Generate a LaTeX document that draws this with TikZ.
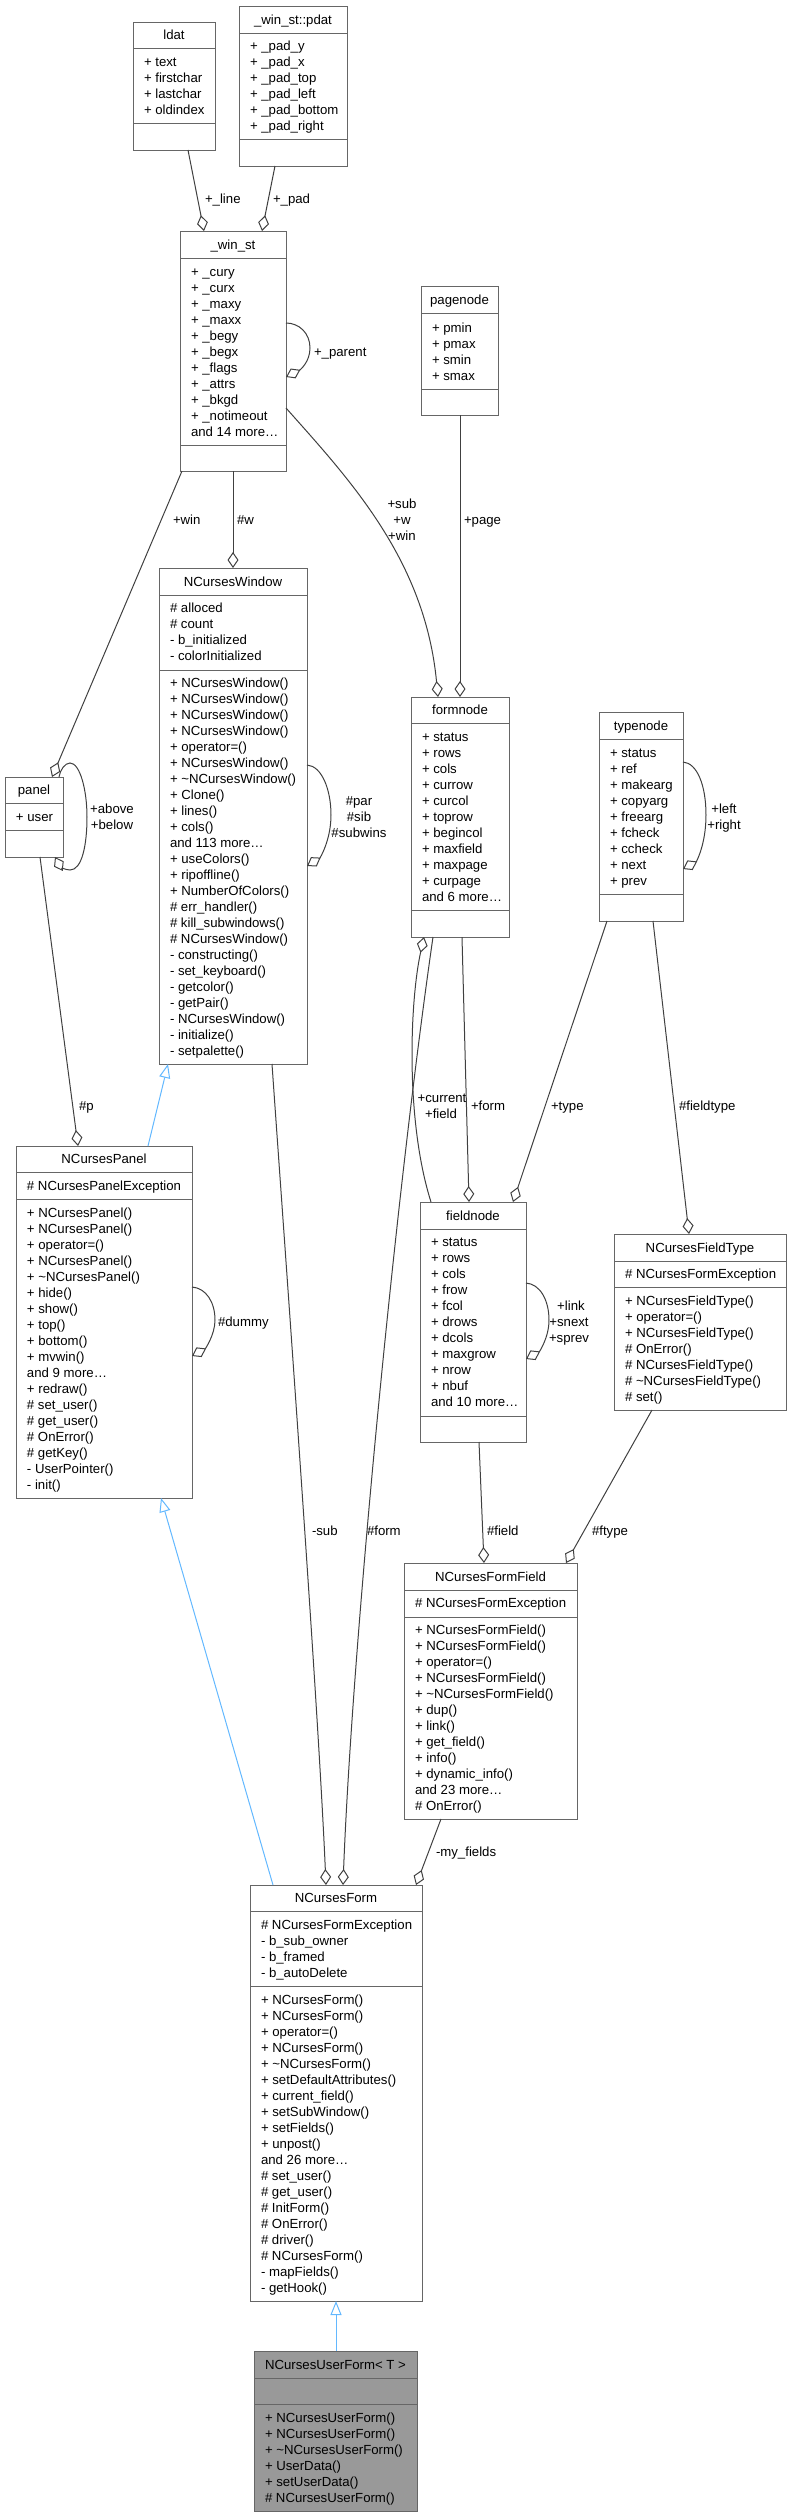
\documentclass[tikz,border=0pt]{standalone}
\usepackage{fontspec}
\setmainfont{Liberation Sans}
\usetikzlibrary{arrows.meta}
\definecolor{boxc}{HTML}{666666}
\definecolor{edgec}{HTML}{404040}
\definecolor{inhc}{HTML}{63B8FF}
\definecolor{focusc}{HTML}{999999}
% #1 name, #2 left, #3 top, #4 right, #5 bottom, #6 fill
\newcommand\umlbox[6]{\node[box, fill=#6, anchor=north west, minimum width={(#4-#2)*1pt}, minimum height={(#5-#3)*1pt}] (#1) at (#2,#3) {};}
% #1 box name, #2 y
\newcommand\usep[2]{\draw[sepl] (#1.west |- 0,#2) -- (#1.east |- 0,#2);}
% #1 box name, #2 y, #3 text
\newcommand\utitle[3]{\node[ttl] (#1-t) at (#1.north |- 0,#2) {#3};}
% #1 prefix, #2 x, #3 first y, #4 list
\newcommand\umem[4]{\foreach \mt [count=\mi] in {#4} {\node[mem] (#1\mi) at (#2,{#3+16*(\mi-1)}) {\mt};}}
\begin{document}
\begin{tikzpicture}[x=1pt,y=-1pt,
  every node/.style={font=\fontsize{13.2}{16}\selectfont, inner sep=0pt, outer sep=0pt},
  box/.style={draw=boxc, line width=1pt, rectangle},
  sepl/.style={draw=boxc, line width=1pt},
  ttl/.style={anchor=base, yshift=-4.5pt},
  mem/.style={anchor=base west, yshift=-4.5pt},
  lblw/.style={anchor=base west, yshift=-4.5pt},
  lblc/.style={anchor=base, yshift=-4.5pt},
  agg/.style={draw=edgec, line width=1pt, {Diamond[open,length=16pt,width=11pt]}-},
  inh/.style={draw=inhc, line width=1pt, {Triangle[open,length=14pt,width=11pt]}-}]
\useasboundingbox (0,0) rectangle (791,2517);

% ---------- boxes ----------
\umlbox{ldat}{133}{22}{215}{150}{white}
\usep{ldat}{48}\usep{ldat}{123}
\utitle{ldat}{35}{ldat}
\umem{ldat-a}{144}{62}{+ text, + firstchar, + lastchar, + oldindex}

\umlbox{pdat}{239}{6}{347}{166}{white}
\usep{pdat}{33}\usep{pdat}{139}
\utitle{pdat}{19.5}{\_win\_st::pdat}
\umem{pdat-a}{250}{46}{+ \_pad\_y, + \_pad\_x, + \_pad\_top, + \_pad\_left, + \_pad\_bottom, + \_pad\_right}

\umlbox{winst}{180}{231}{286}{471}{white}
\usep{winst}{258}\usep{winst}{445}
\utitle{winst}{245}{\_win\_st}
\umem{winst-a}{191}{272}{+ \_cury, + \_curx, + \_maxy, + \_maxx, + \_begy, + \_begx, + \_flags, + \_attrs, + \_bkgd, + \_notimeout, and 14 more…}

\umlbox{pagenode}{421}{286}{498}{415}{white}
\usep{pagenode}{313}\usep{pagenode}{389}
\utitle{pagenode}{299.5}{pagenode}
\umem{pagenode-a}{432}{328}{+ pmin, + pmax, + smin, + smax}

\umlbox{formnode}{411}{697}{509}{937}{white}
\usep{formnode}{723}\usep{formnode}{910}
\utitle{formnode}{710}{formnode}
\umem{formnode-a}{422}{737}{+ status, + rows, + cols, + currow, + curcol, + toprow, + begincol, + maxfield, + maxpage, + curpage, and 6 more…}

\umlbox{typenode}{599}{712}{683}{921}{white}
\usep{typenode}{739}\usep{typenode}{894}
\utitle{typenode}{725.5}{typenode}
\umem{typenode-a}{610}{753}{+ status, + ref, + makearg, + copyarg, + freearg, + fcheck, + ccheck, + next, + prev}

\umlbox{ncwin}{159}{568}{307}{1064}{white}
\usep{ncwin}{595}\usep{ncwin}{670}
\utitle{ncwin}{581.5}{NCursesWindow}
\umem{ncwin-a}{170}{608}{\# alloced, \# count, - b\_initialized, - colorInitialized}
\umem{ncwin-m}{170}{683}{+ NCursesWindow(), + NCursesWindow(), + NCursesWindow(), + NCursesWindow(), + operator=(), + NCursesWindow(), + \textasciitilde NCursesWindow(), + Clone(), + lines(), + cols(), and 113 more…, + useColors(), + ripoffline(), + NumberOfColors(), \# err\_handler(), \# kill\_subwindows(), \# NCursesWindow(), - constructing(), - set\_keyboard(), - getcolor(), - getPair(), - NCursesWindow(), - initialize(), - setpalette()}

\umlbox{panel}{5}{777}{63}{857}{white}
\usep{panel}{803}\usep{panel}{830}
\utitle{panel}{790}{panel}
\umem{panel-a}{16}{817}{+ user}

\umlbox{ncpanel}{16}{1146}{192}{1498}{white}
\usep{ncpanel}{1172}\usep{ncpanel}{1199}
\utitle{ncpanel}{1159}{NCursesPanel}
\umem{ncpanel-a}{27}{1186}{\# NCursesPanelException}
\umem{ncpanel-m}{27}{1213}{+ NCursesPanel(), + NCursesPanel(), + operator=(), + NCursesPanel(), + \textasciitilde NCursesPanel(), + hide(), + show(), + top(), + bottom(), + mvwin(), and 9 more…, + redraw(), \# set\_user(), \# get\_user(), \# OnError(), \# getKey(), - UserPointer(), - init()}

\umlbox{fieldnode}{420}{1202}{526}{1442}{white}
\usep{fieldnode}{1229}\usep{fieldnode}{1416}
\utitle{fieldnode}{1215.5}{fieldnode}
\umem{fieldnode-a}{431}{1242}{+ status, + rows, + cols, + frow, + fcol, + drows, + dcols, + maxgrow, + nrow, + nbuf, and 10 more…}

\umlbox{ftype}{614}{1234}{786}{1410}{white}
\usep{ftype}{1261}\usep{ftype}{1287}
\utitle{ftype}{1247.5}{NCursesFieldType}
\umem{ftype-a}{625}{1274}{\# NCursesFormException}
\umem{ftype-m}{625}{1301}{+ NCursesFieldType(), + operator=(), + NCursesFieldType(), \# OnError(), \# NCursesFieldType(), \# \textasciitilde NCursesFieldType(), \# set()}

\umlbox{ffield}{404}{1563}{577}{1819}{white}
\usep{ffield}{1590}\usep{ffield}{1617}
\utitle{ffield}{1576.5}{NCursesFormField}
\umem{ffield-a}{415}{1603}{\# NCursesFormException}
\umem{ffield-m}{415}{1630}{+ NCursesFormField(), + NCursesFormField(), + operator=(), + NCursesFormField(), + \textasciitilde NCursesFormField(), + dup(), + link(), + get\_field(), + info(), + dynamic\_info(), and 23 more…, \# OnError()}

\umlbox{ncform}{250}{1885}{422}{2301}{white}
\usep{ncform}{1911}\usep{ncform}{1986}
\utitle{ncform}{1898}{NCursesForm}
\umem{ncform-a}{261}{1925}{\# NCursesFormException, - b\_sub\_owner, - b\_framed, - b\_autoDelete}
\umem{ncform-m}{261}{2000}{+ NCursesForm(), + NCursesForm(), + operator=(), + NCursesForm(), + \textasciitilde NCursesForm(), + setDefaultAttributes(), + current\_field(), + setSubWindow(), + setFields(), + unpost(), and 26 more…, \# set\_user(), \# get\_user(), \# InitForm(), \# OnError(), \# driver(), \# NCursesForm(), - mapFields(), - getHook()}

\umlbox{userform}{254}{2351}{417}{2511}{focusc}
\usep{userform}{2378}\usep{userform}{2404}
\utitle{userform}{2364.5}{NCursesUserForm< T >}
\umem{userform-m}{265}{2418}{+ NCursesUserForm(), + NCursesUserForm(), + \textasciitilde NCursesUserForm(), + UserData(), + setUserData(), \# NCursesUserForm()}

% ---------- aggregation edges ----------
\draw[agg] (204,0 |- winst.north) -- (188,0 |- ldat.south);
\node[lblw] (l-line) at (205,199) {+\_line};
\draw[agg] (262,0 |- winst.north) -- (275,0 |- pdat.south);
\node[lblw] (l-pad) at (273,199) {+\_pad};

\draw[agg] (winst.east |- 0,377) .. controls (300,370) and (310,362) .. (310,348) .. controls (310,333) and (299,323) .. (winst.east |- 0,323);
\node[lblw] (l-parent) at (314,352) {+\_parent};

\draw[agg] (233,0 |- ncwin.north) -- (233,0 |- winst.south);
\node[lblw] (l-w) at (237,520) {\#w};

\draw[agg] (52,0 |- panel.north) -- (182,0 |- winst.south);
\node[lblw] (l-win) at (173,520) {+win};

\draw[agg] (438,0 |- formnode.north) .. controls (425,560) and (350,480) .. (winst.east |- 0,408);
\node[lblc] (l-sub1) at (402,504) {+sub};
\node[lblc] (l-sub2) at (402,520) {+w};
\node[lblc] (l-sub3) at (402,536) {+win};

\draw[agg] (460,0 |- formnode.north) -- (460,0 |- pagenode.south);
\node[lblw] (l-page) at (464,520) {+page};

\draw[agg] (ncwin.east |- 0,866) .. controls (320,858) and (331,840) .. (331,815) .. controls (331,790) and (322,766) .. (ncwin.east |- 0,765);
\node[lblc] (l-par1) at (359,801) {\#par};
\node[lblc] (l-par2) at (359,817) {\#sib};
\node[lblc] (l-par3) at (359,833) {\#subwins};

\draw[agg] (typenode.east |- 0,869) .. controls (696,862) and (706,845) .. (706,815) .. controls (706,785) and (697,763) .. (typenode.east |- 0,762);
\node[lblc] (l-left) at (724,809) {+left};
\node[lblc] (l-right) at (724,825) {+right};

\draw[agg] (55,0 |- panel.south) .. controls (60,866) and (65,870) .. (70,870) .. controls (82,870) and (87,845) .. (87,817) .. controls (87,790) and (80,763) .. (70,763) .. controls (65,763) and (60,770) .. (59,0 |- panel.north);
\node[lblc] (l-above) at (112,809) {+above};
\node[lblc] (l-below) at (112,825) {+below};

\draw[agg] (78,0 |- ncpanel.north) -- (40,0 |- panel.south);
\node[lblw] (l-p) at (79,1106) {\#p};

\draw[agg] (ncpanel.east |- 0,1356) .. controls (205,1349) and (215,1335) .. (215,1320) .. controls (215,1302) and (206,1288) .. (ncpanel.east |- 0,1287);
\node[lblw] (l-dummy) at (218,1322) {\#dummy};

\draw[agg] (424,0 |- formnode.south) .. controls (410,1000) and (405,1120) .. (431,0 |- fieldnode.north);
\node[lblc] (l-cur1) at (442,1098) {+current};
\node[lblc] (l-cur2) at (441,1114) {+field};

\draw[agg] (469,0 |- fieldnode.north) -- (462,0 |- formnode.south);
\node[lblw] (l-form) at (471,1106) {+form};

\draw[agg] (513,0 |- fieldnode.north) -- (607,0 |- typenode.south);
\node[lblw] (l-type) at (551,1106) {+type};

\draw[agg] (689,0 |- ftype.north) -- (653,0 |- typenode.south);
\node[lblw] (l-fieldtype) at (679,1106) {\#fieldtype};

\draw[agg] (fieldnode.east |- 0,1359) .. controls (539,1352) and (549,1338) .. (549,1320) .. controls (549,1300) and (540,1284) .. (fieldnode.east |- 0,1283);
\node[lblc] (l-link) at (571,1306) {+link};
\node[lblc] (l-snext) at (569,1322) {+snext};
\node[lblc] (l-sprev) at (569,1338) {+sprev};

\draw[agg] (484,0 |- ffield.north) -- (479,0 |- fieldnode.south);
\node[lblw] (l-field) at (487,1531) {\#field};

\draw[agg] (566,0 |- ffield.north) -- (652,0 |- ftype.south);
\node[lblw] (l-ftype) at (592,1531) {\#ftype};

\draw[agg] (326,0 |- ncform.north) .. controls (318,1700) and (285,1250) .. (272,0 |- ncwin.south);
\node[lblw] (l-subw) at (312,1531) {-sub};

\draw[agg] (343,0 |- ncform.north) .. controls (352,1650) and (395,1200) .. (433,0 |- formnode.south);
\node[lblw] (l-formf) at (367,1531) {\#form};

\draw[agg] (416,0 |- ncform.north) -- (441,0 |- ffield.south);
\node[lblw] (l-myf) at (436,1852) {-my\_fields};

% ---------- inheritance edges ----------
\draw[inh] (168,0 |- ncwin.south) -- (148,0 |- ncpanel.north);
\draw[inh] (161,0 |- ncpanel.south) -- (273,0 |- ncform.north);
\draw[inh] (336,0 |- ncform.south) -- (336,0 |- userform.north);
\end{tikzpicture}
\end{document}
